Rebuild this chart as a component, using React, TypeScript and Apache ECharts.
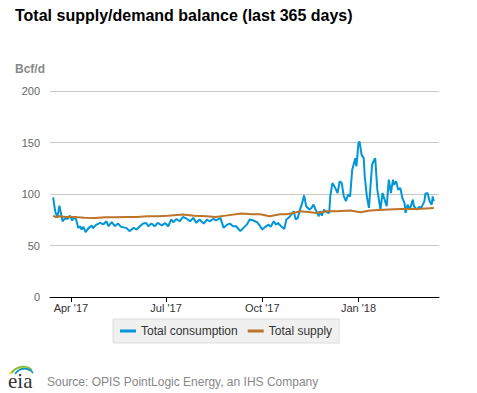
import React, { useEffect, useRef } from "react";
import * as echarts from "echarts";

const consDates = [
  "2017-03-15","2017-03-17","2017-03-19","2017-03-21","2017-03-24","2017-03-26","2017-03-29","2017-03-31",
  "2017-04-02","2017-04-05","2017-04-06","2017-04-08","2017-04-10","2017-04-11","2017-04-13","2017-04-15",
  "2017-04-18","2017-04-21","2017-04-22","2017-04-25","2017-04-29","2017-05-02","2017-05-05","2017-05-07",
  "2017-05-10","2017-05-13","2017-05-16","2017-05-19","2017-05-24","2017-05-27","2017-05-31","2017-06-03",
  "2017-06-06","2017-06-09","2017-06-12","2017-06-14","2017-06-17","2017-06-20","2017-06-23","2017-06-27",
  "2017-06-30","2017-07-03","2017-07-06","2017-07-08","2017-07-11","2017-07-14","2017-07-17","2017-07-21",
  "2017-07-24","2017-07-27","2017-07-30","2017-08-02","2017-08-06","2017-08-09","2017-08-12","2017-08-15",
  "2017-08-18","2017-08-22","2017-08-25","2017-08-28","2017-08-31","2017-09-03","2017-09-06","2017-09-10",
  "2017-09-13","2017-09-16","2017-09-19","2017-09-22","2017-09-26","2017-09-29","2017-10-01","2017-10-04",
  "2017-10-07","2017-10-09","2017-10-12","2017-10-14","2017-10-16","2017-10-19","2017-10-22","2017-10-24",
  "2017-10-27","2017-10-31","2017-11-02","2017-11-04","2017-11-06","2017-11-08","2017-11-10","2017-11-12",
  "2017-11-15","2017-11-17","2017-11-19","2017-11-21","2017-11-24","2017-11-25","2017-11-27","2017-11-29",
  "2017-12-02","2017-12-04","2017-12-05","2017-12-07","2017-12-09","2017-12-12","2017-12-14","2017-12-16",
  "2017-12-18","2017-12-20","2017-12-22","2017-12-24","2017-12-26","2017-12-29","2017-12-30","2018-01-01",
  "2018-01-02","2018-01-04","2018-01-06","2018-01-07","2018-01-09","2018-01-11","2018-01-14","2018-01-16",
  "2018-01-17","2018-01-19","2018-01-22","2018-01-24","2018-01-25","2018-01-28","2018-01-30","2018-02-01",
  "2018-02-03","2018-02-04","2018-02-06","2018-02-08","2018-02-10","2018-02-12","2018-02-14","2018-02-15",
  "2018-02-17","2018-02-19","2018-02-22","2018-02-23","2018-02-26","2018-02-28","2018-03-02","2018-03-05",
  "2018-03-06","2018-03-08","2018-03-10","2018-03-12","2018-03-13","2018-03-14"
];
const consValues = [
  96.8, 83, 77, 88.7, 73.5, 76, 76, 79,
  74.5, 77.7, 75.2, 67, 68.7, 65.5, 68.1, 63,
  67.1, 69.4, 66.8, 70, 71.9, 70.6, 73.5, 68.7,
  72.6, 68.7, 71.3, 68.1, 67.1, 63.9, 67.1, 65.5,
  68.7, 71.3, 71.9, 68.7, 71.3, 68.7, 71.9, 69.4,
  71.9, 68.7, 75.2, 72.6, 75.8, 73.5, 77.7, 75.8,
  73.5, 76.8, 71.9, 75.2, 71.3, 75.2, 73.5, 75.8,
  74.5, 76.8, 67.1, 70, 71.3, 68.7, 68.7, 63.9,
  67.1, 70, 75.2, 74.5, 72.6, 68.7, 65.5, 68.1,
  70.3, 68.1, 73.5, 70.3, 71.9, 68.7, 66.1, 75.2,
  77.7, 83.2, 75.2, 76.8, 84.8, 90.6, 98.7, 88.1,
  84.8, 86.5, 89.7, 84.8, 78.4, 83.2, 79, 84.8,
  82.3, 81.6, 97.7, 110.6, 107.4, 101, 112.3, 110.6,
  97.7, 93, 99.4, 97.7, 123.5, 134.8, 126.8, 149.4,
  151, 138, 134.8, 117, 97.7, 86.5, 128.4, 133,
  134.8, 104.2, 84.8, 101, 97.7, 88.1, 113.9, 101,
  113.9, 109, 112.3, 104.2, 105.8, 96.1, 91.3, 81.6,
  89.7, 84.8, 94.5, 88.1, 84.8, 87.4, 86.5, 92.9,
  100.3, 101, 92.9, 89.7, 97.7, 92.9
];

const supplyDates = [
  "2017-03-15","2017-03-17","2017-03-21","2017-03-27","2017-04-04","2017-04-14","2017-04-24","2017-05-04",
  "2017-05-14","2017-05-24","2017-06-03","2017-06-13","2017-06-23","2017-07-03","2017-07-17","2017-07-28",
  "2017-08-09","2017-08-17","2017-08-27","2017-09-11","2017-09-21","2017-09-29","2017-10-08","2017-10-18",
  "2017-10-24","2017-10-31","2017-11-06","2017-11-16","2017-11-22","2017-12-02","2017-12-11","2017-12-24",
  "2018-01-03","2018-01-12","2018-01-25","2018-02-10","2018-02-26","2018-03-14"
];
const supplyValues = [
  79, 77.7, 78.4, 77.7, 77.7, 77, 76.8, 77.4,
  77.4, 77.7, 77.7, 78.4, 78.4, 79, 80, 79,
  78.4, 77.7, 79, 81, 80.3, 80.3, 78.4, 80.3,
  80.3, 81.6, 83.2, 82.3, 81.6, 83.2, 83.2, 84,
  82.3, 84, 84.8, 85.5, 85.5, 86.5
];

const tickDates = ["2017-04-01", "2017-07-01", "2017-10-01", "2018-01-01"];
const tickLabels = ["Apr '17", "Jul '17", "Oct '17", "Jan '18"];
const yTicks = [0, 50, 100, 150, 200];

const toTs = (s: string) => {
  const [y, m, d] = s.split("-").map(Number);
  return Date.UTC(y, m - 1, d);
};

export default function App() {
  const ref = useRef<HTMLDivElement>(null);
  useEffect(() => {
    if (!ref.current) return;
    const chart = echarts.init(ref.current, undefined, { renderer: "svg" });
    const tickTs = tickDates.map(toTs);
    const font = "Liberation Sans, Arial, sans-serif";
    chart.setOption({
      animation: false,
      backgroundColor: "#ffffff",
      title: {
        text: "Total supply/demand balance (last 365 days)",
        left: 15,
        top: 7,
        padding: 0,
        textStyle: { fontSize: 16, fontWeight: "bold", color: "#000", fontFamily: font },
      },
      grid: { left: 50, right: 38, top: 91, bottom: 96 },
      legend: {
        left: 113,
        top: 319,
        backgroundColor: "#f0f0f0",
        borderColor: "#dddddd",
        borderWidth: 1,
        borderRadius: 0,
        padding: [6, 7, 6, 7],
        itemGap: 10,
        itemWidth: 16,
        itemHeight: 3,
        icon: "rect",
        textStyle: { fontSize: 12, color: "#333", fontFamily: font },
        data: ["Total consumption", "Total supply"],
      },
      xAxis: {
        type: "value",
        min: toTs("2017-03-12"),
        max: toTs("2018-03-19"),
        axisLine: { show: true, onZero: false, lineStyle: { color: "#000", width: 1 } },
        axisTick: { show: true, length: 5, customValues: tickTs, lineStyle: { color: "#000" } },
        axisLabel: {
          customValues: tickTs,
          fontSize: 11,
          color: "#333",
          fontFamily: font,
          margin: 5,
          formatter: (v: number) => {
            const i = tickTs.indexOf(v);
            return i >= 0 ? tickLabels[i] : "";
          },
        },
        splitLine: { show: false },
      },
      yAxis: {
        type: "value",
        min: yTicks[0],
        max: yTicks[yTicks.length - 1],
        interval: 50,
        axisLine: { show: false },
        axisTick: { show: false },
        axisLabel: { fontSize: 11, color: "#666", fontFamily: font, margin: 10 },
        splitLine: { lineStyle: { color: "#c8c8c8", width: 1 } },
      },
      series: [
        {
          name: "Total consumption",
          type: "line",
          showSymbol: false,
          color: "#0096d7",
          lineStyle: { width: 2, color: "#0096d7" },
          data: consDates.map((d, i) => [toTs(d), consValues[i]]),
        },
        {
          name: "Total supply",
          type: "line",
          showSymbol: false,
          color: "#bd732a",
          lineStyle: { width: 2, color: "#bd732a" },
          data: supplyDates.map((d, i) => [toTs(d), supplyValues[i]]),
        },
      ],
      graphic: [
        {
          type: "text",
          left: 15,
          top: 63,
          style: { text: "Bcf/d", fontSize: 12, fontWeight: "bold", fill: "#888", fontFamily: font },
        },
        {
          type: "bezierCurve",
          shape: { x1: 10, y1: 374, x2: 30, y2: 371, cpx1: 14, cpy1: 367, cpx2: 24, cpy2: 366 },
          style: { stroke: "#f5c518", lineWidth: 1.6, fill: null },
        },
        {
          type: "bezierCurve",
          shape: { x1: 12, y1: 373, x2: 32, y2: 370, cpx1: 17, cpy1: 365, cpx2: 27, cpy2: 365 },
          style: { stroke: "#7bbf3a", lineWidth: 1.6, fill: null },
        },
        {
          type: "bezierCurve",
          shape: { x1: 15, y1: 374, x2: 33, y2: 373, cpx1: 20, cpy1: 367, cpx2: 29, cpy2: 367 },
          style: { stroke: "#0096d7", lineWidth: 1.6, fill: null },
        },
        {
          type: "text",
          left: 8,
          top: 370,
          style: { text: "eia", fontSize: 21, fill: "#333", fontFamily: "Liberation Serif, serif" },
        },
        {
          type: "text",
          left: 47,
          top: 376,
          style: {
            text: "Source: OPIS PointLogic Energy, an IHS Company",
            fontSize: 12,
            fill: "#888",
            fontFamily: font,
          },
        },
      ],
    });
    return () => chart.dispose();
  }, []);
  return (
    <div
      ref={ref}
      style={{ position: "fixed", left: 0, top: 0, width: 477, height: 393 }}
    />
  );
}
